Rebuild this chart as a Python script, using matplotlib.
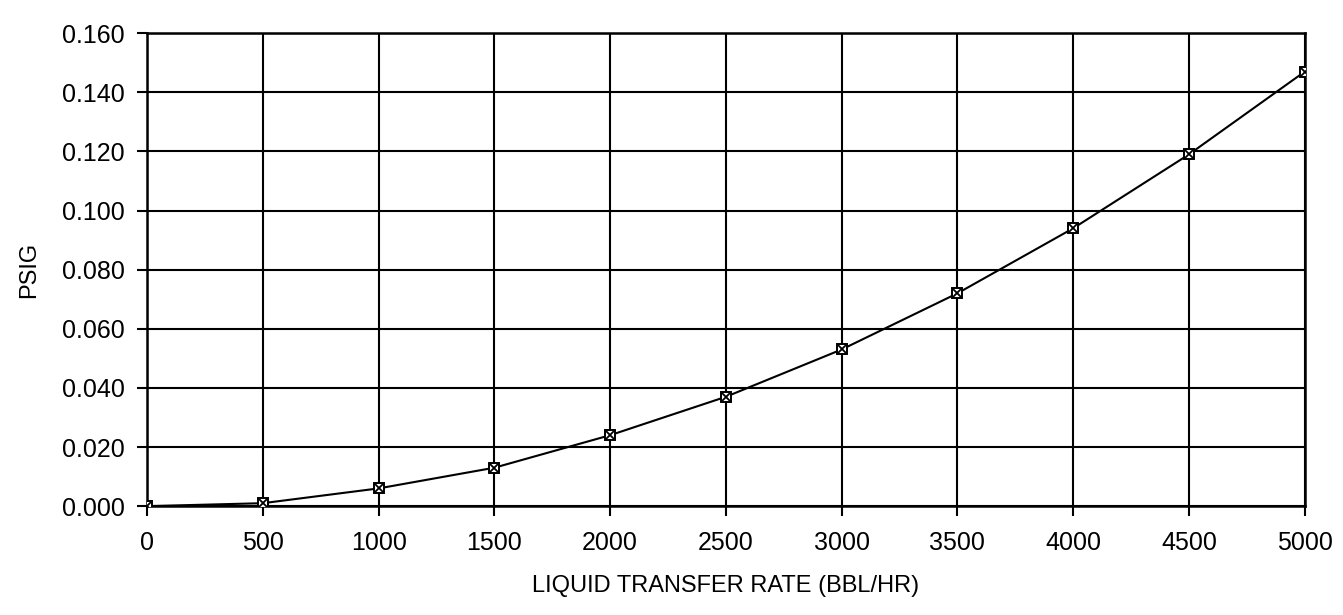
import numpy as np
import matplotlib
matplotlib.use('Agg')
import matplotlib.pyplot as plt

# Liquid transfer rate (BBL/HR) vs pressure (PSIG)
rate = [0, 500, 1000, 1500, 2000, 2500, 3000, 3500, 4000, 4500, 5000]
psig = [0.000, 0.001, 0.006, 0.013, 0.024, 0.037, 0.053, 0.072, 0.094, 0.119, 0.147]

x_ticks = [0, 500, 1000, 1500, 2000, 2500, 3000, 3500, 4000, 4500, 5000]
y_ticks = [0.000, 0.020, 0.040, 0.060, 0.080, 0.100, 0.120, 0.140, 0.160]

plt.rcParams['font.family'] = ['Liberation Sans', 'DejaVu Sans']

fig = plt.figure(figsize=(13.43, 6.15), dpi=100)
ax = fig.add_axes([0.1095, 0.177, 0.862, 0.769])

ax.plot(rate, psig, color='black', linewidth=1.5, zorder=3)
ax.plot(rate, psig, linestyle='none', marker='s', markersize=7,
        markerfacecolor='white', markeredgecolor='black', markeredgewidth=1.4, zorder=4)
ax.plot(rate, psig, linestyle='none', marker='x', markersize=6,
        color='black', markeredgewidth=1.3, zorder=5)

ax.set_xlim(0, 5000)
ax.set_ylim(0, 0.160)
ax.set_xticks(x_ticks)
ax.set_yticks(y_ticks)
ax.set_yticklabels([f'{v:.3f}' for v in y_ticks])
ax.grid(True, color='black', linewidth=1.5)
ax.set_axisbelow(True)
for s in ax.spines.values():
    s.set_linewidth(1.8)
ax.tick_params(direction='out', length=7, width=1.5, labelsize=18)
ax.tick_params(axis='x', pad=11)
ax.tick_params(axis='y', pad=9)

ax.set_xlabel('LIQUID TRANSFER RATE (BBL/HR)', fontsize=17, labelpad=14)
ax.set_ylabel('PSIG', fontsize=17, labelpad=16)

fig.savefig('out.png', dpi=100, facecolor='white')
